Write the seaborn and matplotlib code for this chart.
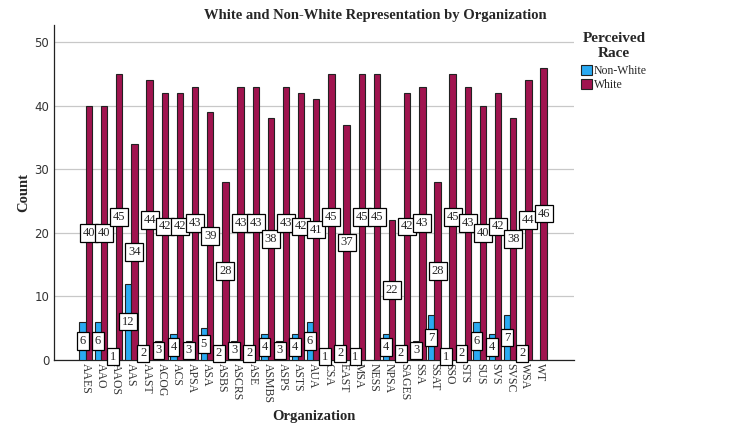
import matplotlib
matplotlib.use('Agg')
import matplotlib.pyplot as plt
import seaborn as sns
import pandas as pd
import numpy as np

orgs = ['AAES', 'AAO', 'AAOS', 'AAS', 'AAST', 'ACOG', 'ACS', 'APSA', 'ASA', 'ASBS',
        'ASCRS', 'ASE', 'ASMBS', 'ASPS', 'ASTS', 'AUA', 'CSA', 'EAST', 'MSA', 'NESS',
        'NPSA', 'SAGES', 'SSA', 'SSAT', 'SSO', 'STS', 'SUS', 'SVS', 'SVSC', 'WSA', 'WT']
non_white = [6, 6, 1, 12, 2, 3, 4, 3, 5, 2,
             3, 2, 4, 3, 4, 6, 1, 2, 1, np.nan,
             4, 2, 3, 7, 1, 2, 6, 4, 7, 2, np.nan]
white = [40, 40, 45, 34, 44, 42, 42, 43, 39, 28,
         43, 43, 38, 43, 42, 41, 45, 37, 45, 45,
         22, 42, 43, 28, 45, 43, 40, 42, 38, 44, 46]
races = ['Non-White', 'White']
colors = ['#2AAAF2', '#A0144F']

df = pd.concat([
    pd.DataFrame({'Organization': orgs, 'Perceived Race': 'Non-White', 'Count': non_white}),
    pd.DataFrame({'Organization': orgs, 'Perceived Race': 'White', 'Count': white}),
], ignore_index=True)

sns.set_style('white')
serif = ['Liberation Serif', 'DejaVu Serif']

fig = plt.figure(figsize=(7.5, 4.47), dpi=100)
ax = fig.add_axes([0.072, 0.195, 0.693, 0.749])

sns.barplot(data=df, x='Organization', y='Count', hue='Perceived Race',
            hue_order=races, palette=colors, order=orgs, width=0.84, gap=0,
            saturation=1, edgecolor='#222222', linewidth=0.8, ax=ax, zorder=3)

# value labels in the middle of each bar
for cont in ax.containers:
    vals = cont.datavalues
    labels = ['' if (np.isnan(v) or v == 0) else '%d' % v for v in vals]
    ax.bar_label(cont, labels=labels, label_type='center', fontsize=9,
                 family=serif, zorder=5,
                 bbox=dict(boxstyle='square,pad=0.22', fc='white', ec='black', lw=0.9))

ax.set_xlim(-2.1, 32.2)
ax.set_ylim(0, 52.7)
ax.set_yticks([0, 10, 20, 30, 40, 50])
ax.yaxis.grid(True, color='#c8c8c8', lw=0.9, zorder=0)
ax.set_axisbelow(True)
for s in ['top', 'right']:
    ax.spines[s].set_visible(False)
for s in ['left', 'bottom']:
    ax.spines[s].set_color('#222222')
    ax.spines[s].set_linewidth(0.9)
ax.tick_params(axis='both', length=0, labelsize=8.5, colors='#333333')
ax.tick_params(axis='x', pad=2)
plt.setp(ax.get_xticklabels(), rotation=-90, family=serif, fontsize=8.5)

ax.set_xlabel('Organization', family=serif, fontweight='bold', fontsize=10.5, labelpad=5)
ax.set_ylabel('Count', family=serif, fontweight='bold', fontsize=10.5, labelpad=3)
fig.text(0.5, 0.965, 'White and Non-White Representation by Organization',
         ha='center', va='center', family=serif, fontweight='bold', fontsize=10.5)

ax.legend_.remove()
leg = fig.legend(*ax.get_legend_handles_labels(), loc='upper left',
                 bbox_to_anchor=(0.769, 0.94), frameon=False,
                 title='Perceived\nRace', handlelength=0.9, handleheight=0.9,
                 handletextpad=0.15, labelspacing=0.15, borderaxespad=0,
                 prop={'family': serif, 'size': 8.5},
                 title_fontproperties={'family': serif, 'weight': 'bold', 'size': 11})
leg._legend_box.align = 'center'
leg._legend_box.sep = 4
leg.get_title().set_multialignment('center')

fig.savefig('out.png', dpi=100)
